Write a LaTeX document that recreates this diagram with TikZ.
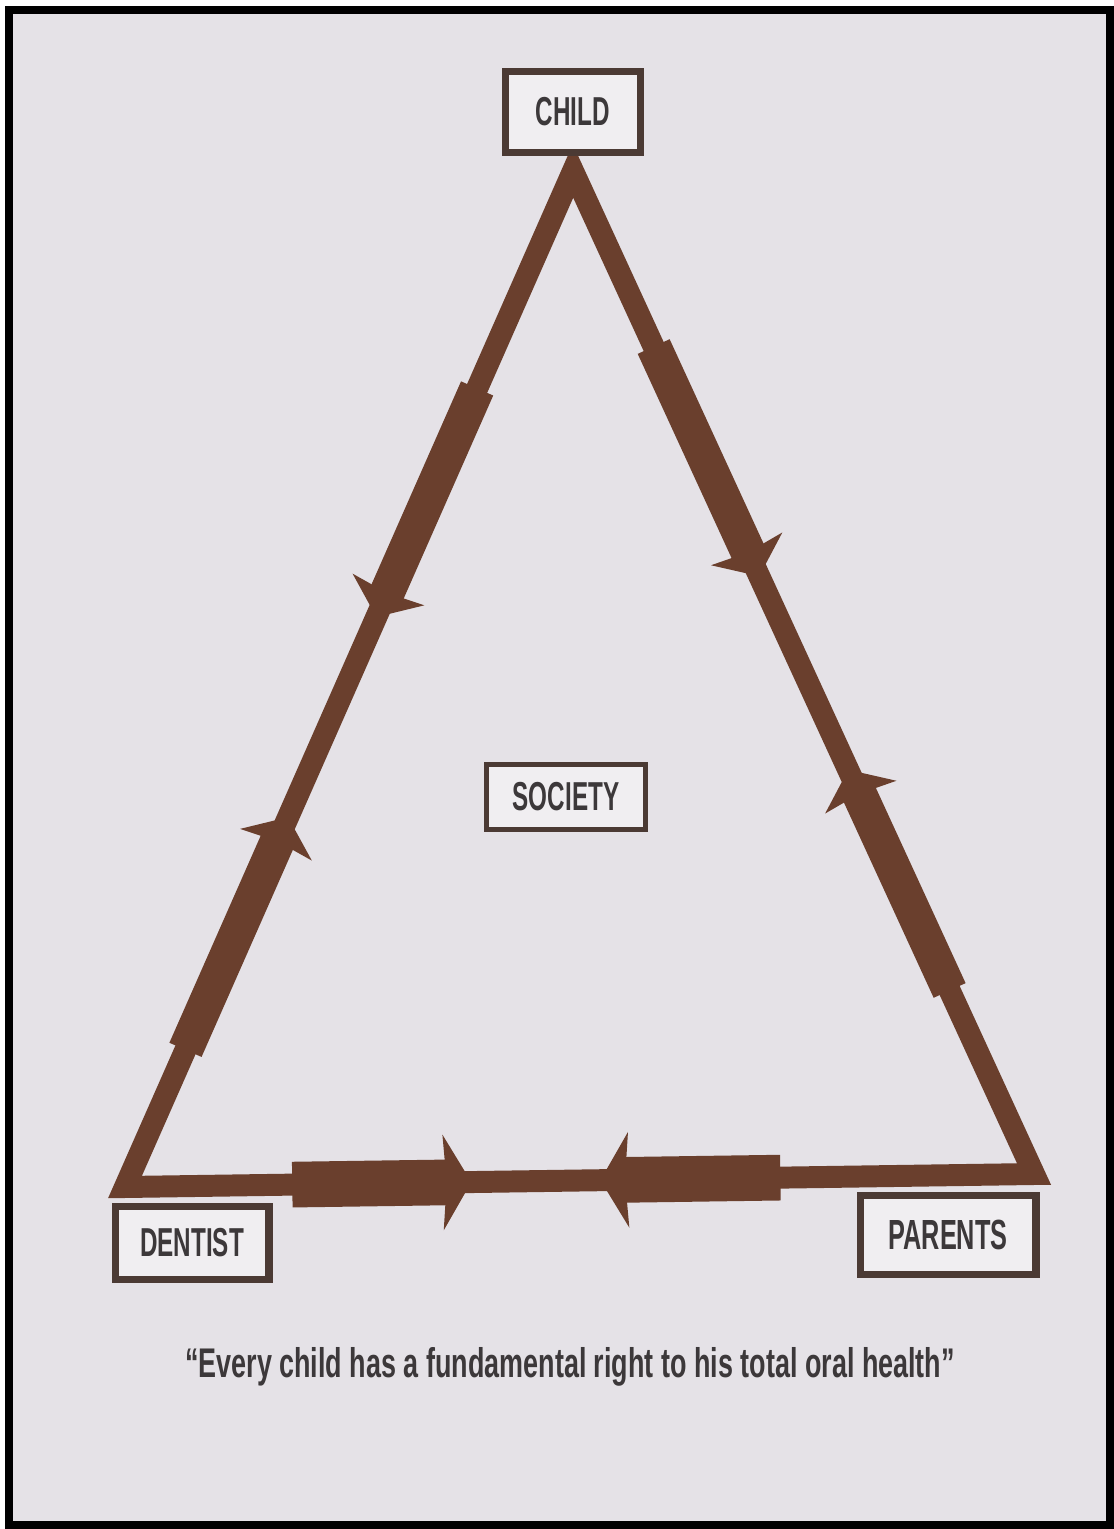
\documentclass[tikz,border=0pt]{standalone}
\usepackage{fontspec}
\newfontfamily\tagfont[FakeStretch=0.60]{Liberation Sans Bold}
\newfontfamily\mottofont[FakeStretch=0.65]{Liberation Sans Bold}
\usepackage{tikz}
\usetikzlibrary{arrows.meta, calc}
\definecolor{brn}{RGB}{106,63,45}
\definecolor{paper}{RGB}{229,226,231}
\definecolor{boxline}{RGB}{75,58,52}
\definecolor{boxfill}{RGB}{240,238,241}
\definecolor{ink}{RGB}{60,56,58}

\begin{document}
\begin{tikzpicture}[
    x=0.02cm, y=-0.02cm,
    band/.style={draw=brn, line width=12.5pt, line join=miter},
    shaft/.style={brn, line width=20pt, -{Stealth[length=17pt, width=44pt, inset=2pt]}},
    bshaft/.style={brn, line width=26pt, -{Stealth[length=16pt, width=54pt, inset=2pt]}},
    tag/.style={rectangle, draw=boxline, line width=4pt, fill=boxfill, text=ink, font=\tagfont\fontsize{23pt}{27pt}\selectfont}
]
    \useasboundingbox (0,0) rectangle (1114,1529);
    \fill[white] (0,0) rectangle (1114,1529);
    \fill[paper] (9,10) rectangle (1110,1525);
    \draw[black, line width=4.5pt] (9,10) rectangle (1110,1525);

    % corners of the triangle
    \coordinate (apex) at (573,171);
    \coordinate (cornerL) at (125,1187);
    \coordinate (cornerR) at (1034,1174);

    \draw[band] (apex) -- (cornerL) -- (cornerR) -- cycle;

    \foreach \p/\q/\s/\e in {apex/cornerL/0.214/0.439, cornerL/apex/0.135/0.364,
                            apex/cornerR/0.175/0.404, cornerR/apex/0.183/0.403} {
        \draw[shaft] ($(\p)!\s!(\q)$) -- ($(\p)!\e!(\q)$);
    }
    \draw[bshaft] ($(cornerL)!0.184!(cornerR)$) -- ($(cornerL)!0.381!(cornerR)$);
    \draw[bshaft] ($(cornerR)!0.279!(cornerL)$) -- ($(cornerR)!0.477!(cornerL)$);

    \node[tag, line width=4.5pt, minimum width=2.7cm, minimum height=1.62cm] (child) at (573,112) {CHILD};
    \node[tag, minimum width=3.08cm, minimum height=1.46cm] (dentist) at (192,1243) {DENTIST};
    \node[tag, minimum width=3.52cm, minimum height=1.58cm, font=\tagfont\fontsize{24pt}{28pt}\selectfont] (parents) at (948,1235) {PARENTS};
    \node[tag, line width=2.5pt, minimum width=3.18cm, minimum height=1.3cm] (society) at (566,797) {SOCIETY};

    \node[text=ink, anchor=base, font=\mottofont\fontsize{23.6pt}{28pt}\selectfont] (motto) at (570,1377)
        {“Every child has a fundamental right to his total oral health”};
\end{tikzpicture}
\end{document}
